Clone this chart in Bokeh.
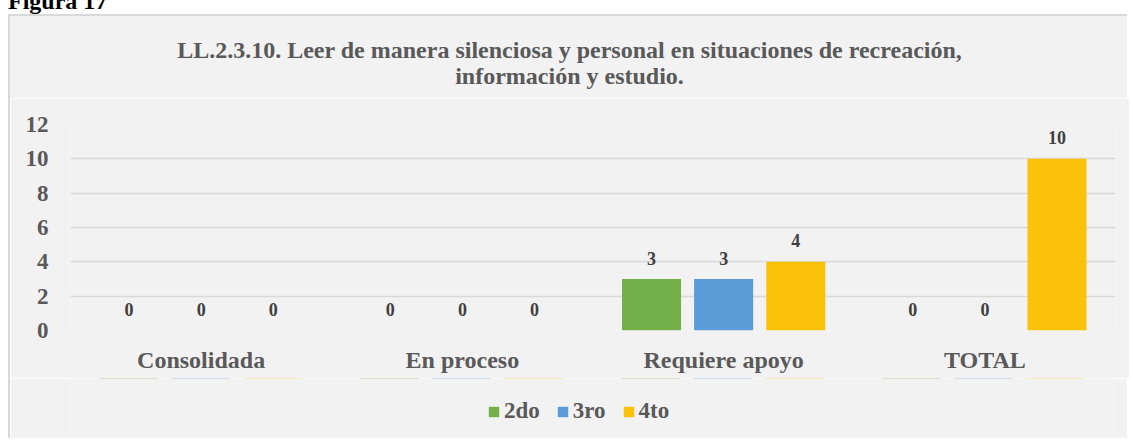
from bokeh.plotting import figure
from bokeh.models import (FactorRange, Range1d, Legend, LegendItem,
                          ColumnDataSource, FixedTicker, Div)
from bokeh.transform import dodge
from bokeh.layouts import column
from bokeh.embed import file_html
from bokeh.resources import INLINE
from bokeh.core.properties import value

# ---------------- data ----------------
categories = ["Consolidada", "En proceso", "Requiere apoyo", "TOTAL"]
series = ["2do", "3ro", "4to"]
v2do = [0, 0, 3, 0]
v3ro = [0, 0, 3, 0]
v4to = [0, 0, 4, 10]
y_ticks = [0, 2, 4, 6, 8, 10, 12]
title_lines = [
    "LL.2.3.10. Leer de manera silenciosa y personal en situaciones de recreación,",
    "información y estudio.",
]
caption = "Figura 17"

colors = ["#74b04a", "#5b9bd8", "#fbc20a"]
FONT_NAME = "Liberation Serif"
FONT = value(FONT_NAME)
TXT = "#595959"
BG = "#f2f2f2"
BORDER = "2px solid #d9d9d9"
W = 1119

src = ColumnDataSource(dict(
    cat=categories,
    s0=v2do, s1=v3ro, s2=v4to,
    l0=[str(v) for v in v2do], l1=[str(v) for v in v3ro], l2=[str(v) for v in v4to],
))

p = figure(
    x_range=FactorRange(*categories, range_padding=0),
    y_range=Range1d(0, 12),
    frame_width=1043, frame_height=206,
    output_backend="svg", toolbar_location=None,
    min_border_left=60, min_border_right=16,
    min_border_top=26, min_border_bottom=48,
    background_fill_color=BG, border_fill_color=BG,
    outline_line_color=None,
    margin=(0, 0, 0, 8),
    styles={"border-left": BORDER},
)

offsets = [-0.276, 0.0, 0.276]
bar_w = 0.226
for i, (off, col) in enumerate(zip(offsets, colors)):
    xs = dodge("cat", off, range=p.x_range)
    p.vbar(x=xs, top=f"s{i}", bottom=0, width=bar_w, source=src,
           fill_color=col, line_color=None)
    p.text(x=xs, y=f"s{i}", text=f"l{i}", source=src,
           text_align="center", text_baseline="middle", y_offset=-21,
           text_font=FONT, text_font_style="bold", text_font_size="18px",
           text_color="#404040")

# axes
for ax in (p.xaxis[0], p.yaxis[0]):
    ax.axis_line_color = None
    ax.major_tick_line_color = None
    ax.minor_tick_line_color = None
    ax.major_label_text_font = FONT_NAME
    ax.major_label_text_font_style = "bold"
    ax.major_label_text_color = TXT
p.yaxis.ticker = FixedTicker(ticks=y_ticks)
p.yaxis.major_label_text_font_size = "23px"
p.yaxis.major_label_standoff = 16
p.xaxis.major_label_text_font_size = "24px"
p.xaxis.major_label_standoff = 10

p.xgrid.grid_line_color = None
p.ygrid.grid_line_color = "#d9d9d9"
p.ygrid.grid_line_width = 1.5

# ---------------- legend strip (separate figure so the legend is not clipped) ----------------
# same bars drawn on a shared x range, but outside this strip's visible y range,
# so only the legend is seen here
pl = figure(
    width=W, height=60, x_range=p.x_range, y_range=Range1d(-20, -19),
    output_backend="svg", toolbar_location=None,
    x_axis_location=None, y_axis_location=None,
    min_border_left=60, min_border_right=16, min_border_top=0, min_border_bottom=0,
    background_fill_color=BG, border_fill_color=BG, outline_line_color=None,
    margin=(0, 0, 0, 8), styles={"border-left": BORDER},
)
pl.grid.visible = False
legend_renderers = []
for i, (off, col) in enumerate(zip(offsets, colors)):
    xs = dodge("cat", off, range=pl.x_range)
    legend_renderers.append(pl.vbar(x=xs, top=f"s{i}", bottom=0, width=bar_w,
                                    source=src, fill_color=col, line_color=None))
legend = Legend(
    items=[LegendItem(label=s, renderers=[r]) for s, r in zip(series, legend_renderers)],
    orientation="horizontal", location=(417, 14),
    background_fill_alpha=0, border_line_color=None,
    label_text_font=FONT_NAME, label_text_font_style="bold",
    label_text_font_size="23px", label_text_color=TXT,
    glyph_width=13, glyph_height=13, label_standoff=4, spacing=16,
    padding=0, margin=0,
)
pl.add_layout(legend, "center")

cap_div = Div(
    text=(f"<div style=\"font: bold 24px '{FONT_NAME}'; color:#000; "
          f"line-height:24px; margin-top:-19px; position:relative; top:-3px; "
          f"white-space:nowrap\">{caption}</div>"),
    width=W, height=14, margin=(0, 0, 0, 8),
)
title_div = Div(
    text=(f"<div style=\"font: bold 24px '{FONT_NAME}'; color:{TXT}; "
          f"line-height:26px; padding-top:21px; text-align:center; width:{W}px\">"
          f"{title_lines[0]}<br>{title_lines[1]}</div>"),
    width=W, height=84, margin=(0, 0, 0, 8),
    styles={"background-color": BG, "border-top": BORDER, "border-left": BORDER},
)
layout = column(cap_div, title_div, p, pl, spacing=0)

open("out.html", "w").write(file_html(layout, INLINE))
